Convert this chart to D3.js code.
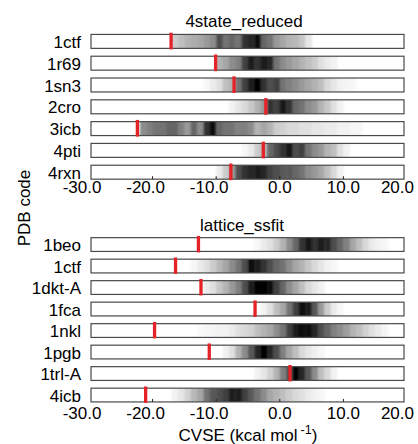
<!DOCTYPE html>
<html>
<head>
<meta charset="utf-8">
<script src="https://cdn.jsdelivr.net/npm/d3@7"></script>
<style>
  body { margin: 0; background: #fff; }
  text { font-family: "Liberation Sans", Arial, sans-serif; fill: #000; }
</style>
</head>
<body>
<div id="chart"></div>
<script>
const WIDTH = 418
const HEIGHT = 444

const X_TICKS = [-30, -20, -10, 0, 10, 20]
const X_TICK_LABELS = ["-30.0", "-20.0", "-10.0", "0.0", "10.0", "20.0"]

// 4state_reduced panel
const codes4state = ["1ctf", "1r69", "1sn3", "2cro", "3icb", "4pti", "4rxn"]
const native4state = [-17.1, -10.1, -7.2, -2.2, -22.4, -2.6, -7.7]
// first bin (kcal/mol) of each density row, bins are 1 kcal/mol wide
const start4state = [-17, -10, -12, -8, -22, -6, -10]
const density4state = [
  [20, 25, 30, 32, 35, 40, 45, 70, 55, 60, 55, 80, 85, 95, 60, 55, 40, 35, 30, 28, 22, 10],
  [30, 35, 45, 50, 75, 90, 80, 90, 85, 55, 45, 40, 35, 30, 25, 20, 12, 8, 5],
  [3, 8, 12, 25, 30, 55, 75, 90, 98, 80, 70, 75, 55, 50, 45, 40, 35, 30, 25, 15, 10, 5, 4, 3],
  [5, 10, 15, 22, 30, 40, 80, 75, 92, 80, 60, 55, 45, 40, 30, 22, 12, 5],
  [45, 50, 55, 55, 60, 60, 50, 40, 60, 45, 80, 95, 60, 55, 55, 50, 50, 45, 30, 35, 30, 20,
   18, 15, 15, 12, 12, 10, 10, 8, 8, 5, 5, 3, 3],
  [3, 8, 20, 30, 60, 70, 80, 92, 70, 75, 55, 45, 40, 30, 25, 12, 5],
  [8, 20, 40, 70, 80, 85, 90, 85, 75, 70, 65, 65, 60, 55, 45, 40, 35, 25, 15, 5]
]

// lattice_ssfit panel
const codesLattice = ["1beo", "1ctf", "1dkt-A", "1fca", "1nkl", "1pgb", "1trl-A", "4icb"]
const nativeLattice = [-12.8, -16.4, -12.4, -3.9, -19.7, -11.1, 1.6, -21.1]
const startLattice = [-4, -14, -12, -3, -13, -9, -4, -17]
const densityLattice = [
  [3, 8, 12, 20, 30, 45, 60, 80, 92, 80, 88, 85, 70, 60, 50, 35, 25, 15, 8, 5, 3],
  [3, 8, 12, 20, 28, 35, 45, 55, 70, 95, 90, 80, 70, 60, 55, 45, 35, 30, 22, 15, 10, 5, 3],
  [8, 12, 22, 30, 40, 50, 70, 90, 98, 98, 95, 75, 60, 45, 35, 25, 15, 10, 5],
  [5, 12, 25, 35, 55, 75, 95, 90, 65, 40, 20, 8, 3],
  [2, 3, 4, 5, 5, 8, 12, 15, 18, 25, 30, 35, 45, 55, 75, 90, 95, 95, 85, 70, 60, 50, 45,
   38, 30, 25, 18, 12, 8, 4],
  [5, 12, 30, 45, 65, 85, 98, 85, 70, 50, 35, 25, 15, 10, 6, 3],
  [5, 10, 18, 30, 50, 70, 98, 85, 65, 45, 25, 15, 5],
  [5, 10, 18, 28, 35, 55, 65, 70, 75, 90, 90, 75, 65, 55, 45, 35, 30, 25, 20, 15, 12, 8, 5, 3]
]

const panels = [
  { title: "4state_reduced", codes: codes4state, native: native4state, start: start4state,
    density: density4state, top: 30.5, step: 21.8, titleY: 26.5, titleX: 244, tickY: 193 },
  { title: "lattice_ssfit", codes: codesLattice, native: nativeLattice, start: startLattice,
    density: densityLattice, top: 233.8, step: 21.5, titleY: 230.5, titleX: 242, tickY: 418.5 }
]

const BOX_LEFT = 91
const BOX_RIGHT = 404

const x = d3.scaleLinear()
  .domain([-30, 20])
  .range([89, 407])

const grey = d3.scaleLinear()
  .domain([0, 100])
  .range(["#ffffff", "#000000"])

const svg = d3.select("#chart")
  .append("svg")
  .attr("width", WIDTH)
  .attr("height", HEIGHT)

svg.append("rect")
  .attr("width", WIDTH)
  .attr("height", HEIGHT)
  .attr("fill", "#fff")

const filter = svg.append("defs")
  .append("filter")
  .attr("id", "soft")
  .attr("x", "-5%").attr("width", "110%")
filter.append("feGaussianBlur")
  .attr("stdDeviation", "1.3 0")

panels.forEach(drawPanel)

// shared axis labels
svg.append("text")
  .attr("transform", "translate(30,208) rotate(-90)")
  .attr("text-anchor", "middle")
  .attr("font-size", 17)
  .text("PDB code")

const xLabel = svg.append("text")
  .attr("x", 248)
  .attr("y", 441)
  .attr("text-anchor", "middle")
  .attr("font-size", 17)
xLabel.append("tspan").text("CVSE (kcal mol")
xLabel.append("tspan").attr("font-size", 12.5).attr("dx", 3).attr("dy", -7).text("-1")
xLabel.append("tspan").attr("dy", 7).text(")")


function drawPanel (panel) {
  const n = panel.codes.length
  const y = d3.scaleBand()
    .domain(panel.codes)
    .range([panel.top, panel.top + n * panel.step])
    .paddingInner(0.36)
    .paddingOuter(0.18)

  const g = svg.append("g")

  g.append("text")
    .attr("x", panel.titleX)
    .attr("y", panel.titleY)
    .attr("text-anchor", "middle")
    .attr("font-size", 17)
    .text(panel.title)

  panel.codes.forEach((code, i) => {
    const top = y(code)
    const h = y.bandwidth()
    const row = g.append("g")

    const bins = panel.density[i].map((d, j) => ({ v: panel.start[i] + j, d: d }))

    row.append("g")
      .attr("filter", "url(#soft)")
      .selectAll("rect")
      .data(bins)
      .join("rect")
      .attr("x", d => x(d.v))
      .attr("width", d => x(d.v + 1) - x(d.v) + 0.4)
      .attr("y", top)
      .attr("height", h)
      .attr("fill", d => grey(d.d))

    row.append("rect")
      .attr("x", BOX_LEFT)
      .attr("y", top)
      .attr("width", BOX_RIGHT - BOX_LEFT)
      .attr("height", h)
      .attr("fill", "none")
      .attr("stroke", "#4a4a4a")
      .attr("stroke-width", 1.2)

    row.append("rect")
      .attr("x", x(panel.native[i]) - 1.6)
      .attr("width", 3.3)
      .attr("y", top - 1.7)
      .attr("height", h + 2.7)
      .attr("fill", "#e52228")

    row.append("text")
      .attr("x", 81)
      .attr("y", top + 13.5)
      .attr("text-anchor", "end")
      .attr("font-size", 17)
      .text(code)
  })

  // small inner ticks on the last strip
  const lastBottom = y(panel.codes[n - 1]) + y.bandwidth()
  g.selectAll("line.tick")
    .data(X_TICKS.slice(1, -1))
    .join("line")
    .attr("class", "tick")
    .attr("x1", d => x(d))
    .attr("x2", d => x(d))
    .attr("y1", lastBottom)
    .attr("y2", lastBottom - 3)
    .attr("stroke", "#222")
    .attr("stroke-width", 1)

  g.selectAll("text.ticklabel")
    .data(X_TICKS)
    .join("text")
    .attr("class", "ticklabel")
    .attr("x", (d, i) => i === X_TICKS.length - 1 ? 414 : x(d) + (d < 0 ? -7 : 0))
    .attr("y", panel.tickY)
    .attr("text-anchor", (d, i) => i === X_TICKS.length - 1 ? "end" : "middle")
    .attr("font-size", 17)
    .text((d, i) => X_TICK_LABELS[i])
}
</script>
</body>
</html>
